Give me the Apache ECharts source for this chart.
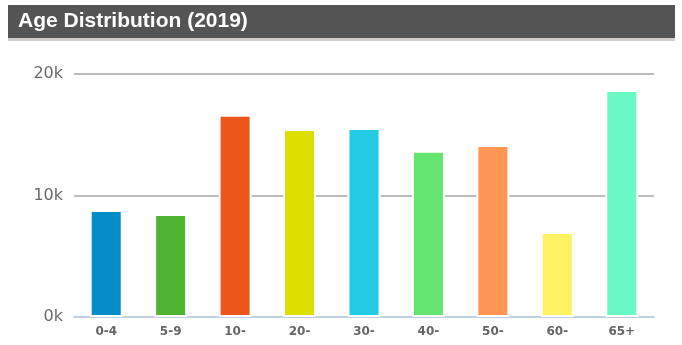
<!DOCTYPE html>
<html>
<head>
<meta charset="utf-8">
<script src="https://cdn.jsdelivr.net/npm/echarts@6/dist/echarts.min.js"></script>
<style>
  html, body { margin: 0; padding: 0; background: #fff; }
  #chart { width: 682px; height: 345px; }
</style>
</head>
<body>
<div id="chart"></div>
<script>
// Age groups and population counts for 2019
const categories = ['0-4', '5-9', '10-', '20-', '30-', '40-', '50-', '60-', '65+'];
const population = [8800, 8480, 16650, 15470, 15560, 13690, 14160, 7000, 18680];
const barColors = ['#058DC7', '#50B432', '#ED561B', '#DDDF00', '#24CBE5', '#64E572', '#FF9655', '#FFF263', '#6AF9C4'];
const yTickValues = [0, 10000, 20000];
const yTickLabels = ['0k', '10k', '20k'];
const chartTitle = 'Age Distribution (2019)';

const chart = echarts.init(document.getElementById('chart'), null, { renderer: 'canvas' });

chart.setOption({
  animation: false,
  backgroundColor: '#fff',
  title: {
    text: chartTitle,
    left: 13,
    top: 6,
    textStyle: {
      color: '#fff',
      fontFamily: 'Liberation Sans',
      fontWeight: 'bold',
      fontSize: 21
    }
  },
  graphic: [
    { type: 'rect', z: -1, shape: { x: 8, y: 38, width: 667, height: 3 }, style: { fill: '#d2cecb' } },
    { type: 'rect', z: -1, shape: { x: 8, y: 5, width: 667, height: 33 }, style: { fill: '#545454' } }
  ],
  grid: { left: 74, right: 28, top: 74, bottom: 28, containLabel: false },
  xAxis: {
    type: 'category',
    data: categories,
    axisLine: { lineStyle: { color: '#c0d0e0', width: 2 } },
    axisTick: { length: 5, lineStyle: { color: '#c0d0e0', width: 2 } },
    axisLabel: {
      margin: 9,
      color: '#666',
      fontFamily: '"DejaVu Sans", Verdana, sans-serif',
      fontWeight: 'bold',
      fontSize: 12
    }
  },
  yAxis: {
    type: 'value',
    min: 0,
    max: 20000,
    interval: 10000,
    axisLine: { show: false },
    axisTick: { show: false },
    splitLine: { lineStyle: { color: '#bdbdbd', width: 2 } },
    axisLabel: {
      margin: 11,
      color: '#6a6a6a',
      fontFamily: '"DejaVu Sans", Verdana, sans-serif',
      fontSize: 16,
      padding: [3, 0, 0, 0],
      formatter: function (v) {
        const i = yTickValues.indexOf(v);
        return i >= 0 ? yTickLabels[i] : '';
      }
    }
  },
  series: [{
    type: 'bar',
    barWidth: 33,
    data: population.map(function (v, i) {
      return { value: v, itemStyle: { color: barColors[i] } };
    }),
    itemStyle: { borderColor: '#fff', borderWidth: 2 }
  }]
});
</script>
</body>
</html>
